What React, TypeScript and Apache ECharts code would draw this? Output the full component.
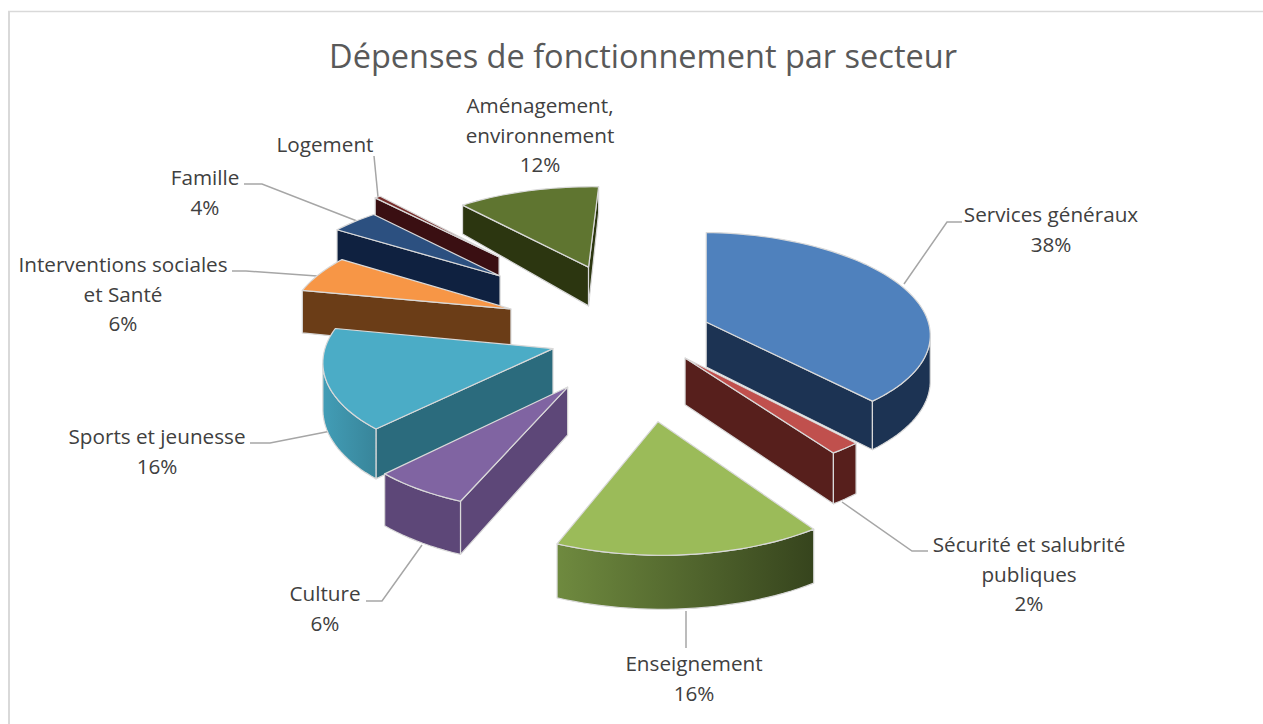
import React, { useEffect, useRef } from "react";
import * as echarts from "echarts";

const titleText = "Dépenses de fonctionnement par secteur";
const sectors = ["Services généraux", "Sécurité et salubrité publiques", "Enseignement", "Culture", "Sports et jeunesse", "Interventions sociales et Santé", "Famille", "Logement", "Aménagement, environnement"];
const shares = [38, 2, 16, 6, 16, 6, 4, 0.5, 12];
const percentLabels = ["38%", "2%", "16%", "6%", "16%", "6%", "4%", "", "12%"];

// Look of each slice: top face, cut faces, outer wall (left → right)
const topColors = ["#4f81bd", "#c0504d", "#9bbb59", "#8064a2", "#4bacc6", "#f79646", "#2c5080", "#772c2a", "#5f7530"];
const cutColors = ["#1c3353", "#571f1c", "#3f4f22", "#5d4778", "#2b6b7d", "#6b3d17", "#0f2140", "#3a0f12", "#2c3610"];
const wallFrom = ["#1c3353", "#571f1c", "#6f8a3f", "#5d4778", "#429db6", "#6b3d17", "#0f2140", "#3a0f12", "#2c3610"];
const wallTo = ["#1c3353", "#571f1c", "#36441d", "#5d4778", "#38859a", "#6b3d17", "#0f2140", "#3a0f12", "#2c3610"];

// Explosion of each slice, in pie radii on the pie's plane
const explodeX = [0.352, 0.248, 0.123, -0.255, -0.329, -0.534, -0.604, -0.621, -0.188];
const explodeY = [-0.13, 0.223, 0.79, 0.49, 0.133, -0.264, -0.62, -0.837, -0.72];

// Projection of the tilted pie
const CX = 628, CY = 335, RADIUS = 225, SQUASH = 0.449, PERSPECTIVE = 0.1, ROTATION = 2;

const labelLines = [
  ["Services généraux", "38%"],
  ["Sécurité et salubrité", "publiques", "2%"],
  ["Enseignement", "16%"],
  ["Culture", "6%"],
  ["Sports et jeunesse", "16%"],
  ["Interventions sociales", "et Santé", "6%"],
  ["Famille", "4%"],
  ["Logement"],
  ["Aménagement,", "environnement", "12%"],
];
const labelX = [1051, 1029, 694, 325, 157, 123, 205, 325, 540];
const labelY = [214, 544, 663, 593, 436, 264, 177, 144, 105];
const leaders = [
  [[904, 284], [947, 222], [962, 222]],
  [[842, 502], [912, 551], [928, 551]],
  [[686, 611], [686, 648]],
  [[422, 545], [382, 601], [366, 601]],
  [[331, 431], [270, 443], [250, 443]],
  [[317, 276], [246, 271], [232, 271]],
  [[357, 221], [262, 184], [244, 184]],
  [[378, 197], [374, 156]],
];
const FONT = "'Open Sans', sans-serif";

const total = shares.reduce((a, b) => a + b, 0);
const project = (X: number, Y: number): [number, number] => {
  const s = 1 / (1 - PERSPECTIVE * Y);
  return [CX + X * RADIUS * s, CY + Y * RADIUS * SQUASH * s];
};
const depthAt = (y: number) => (y >= 300 ? 44 + Math.min(10, (y - 300) / 22) : 44 - (300 - y) * 0.16);
const drop = (p: number[]): [number, number] => [p[0], p[1] + depthAt(p[1])];

function renderSlice(params: any, api: any) {
  const i = params.dataIndex;
  const before = shares.slice(0, i).reduce((a, b) => a + b, 0);
  const a0 = ((before / total) * 360 + ROTATION) * (Math.PI / 180);
  const a1 = (((before + Number(api.value(0))) / total) * 360 + ROTATION) * (Math.PI / 180);
  const ox = explodeX[i], oy = explodeY[i];
  const apex = project(ox, oy);
  const steps = Math.max(3, Math.ceil(((a1 - a0) * 180) / Math.PI / 2));
  const arc: [number, number][] = [];
  for (let k = 0; k <= steps; k++) {
    const t = a0 + ((a1 - a0) * k) / steps;
    arc.push(project(ox + Math.sin(t), oy - Math.cos(t)));
  }
  const rank = Math.round((oy + 1) * 100) * 10;
  const edge = { stroke: "#d9d9d9", lineWidth: 1.2, lineJoin: "round" };
  const children: any[] = [];
  const first = arc[0], last = arc[arc.length - 1];
  // A wall hangs below an edge of the top face only if that edge runs leftwards (clockwise traversal)
  if (first[0] < apex[0]) {
    children.push({ type: "polygon", z2: rank + 1, shape: { points: [apex, first, drop(first), drop(apex)] }, style: { fill: cutColors[i], ...edge } });
  }
  if (last[0] > apex[0]) {
    children.push({ type: "polygon", z2: rank + 2, shape: { points: [apex, last, drop(last), drop(apex)] }, style: { fill: cutColors[i], ...edge } });
  }
  const front = arc.filter((p, k) => (k < arc.length - 1 && arc[k + 1][0] < p[0]) || (k > 0 && p[0] < arc[k - 1][0]));
  if (front.length > 1) {
    const pts = [...front, ...front.slice().reverse().map(drop)];
    children.push({
      type: "polygon", z2: rank + 3, shape: { points: pts },
      style: {
        fill: new echarts.graphic.LinearGradient(0, 0, 1, 0, [
          { offset: 0, color: wallFrom[i] }, { offset: 1, color: wallTo[i] },
        ]),
        ...edge,
      },
    });
  }
  children.push({ type: "polygon", z2: rank + 4, shape: { points: [apex, ...arc] }, style: { fill: topColors[i], ...edge } });
  return { type: "group", children };
}

export default function App() {
  const ref = useRef<HTMLDivElement>(null);
  useEffect(() => {
    const chart = echarts.init(ref.current!, undefined, { renderer: "svg" });
    const graphic: any[] = [
      { type: "line", silent: true, z: 0, shape: { x1: 8, y1: 11.5, x2: 1263, y2: 11.5 }, style: { stroke: "#d9d9d9", lineWidth: 1.5 } },
      { type: "line", silent: true, z: 0, shape: { x1: 9, y1: 11, x2: 9, y2: 724 }, style: { stroke: "#d9d9d9", lineWidth: 2 } },
    ];
    leaders.forEach((pts) => {
      graphic.push({ type: "polyline", z: 1, shape: { points: pts }, style: { stroke: "#a6a6a6", lineWidth: 1.5, fill: "none" } });
    });
    labelLines.forEach((lines, i) => {
      lines.forEach((line, j) => {
        graphic.push({
          type: "text", z: 2, x: labelX[i], y: labelY[i] + j * 29.7,
          style: { text: line, fill: "#404040", font: `20.7px ${FONT}`, textAlign: "center", textVerticalAlign: "middle" },
        });
      });
    });
    chart.setOption({
      animation: false,
      backgroundColor: "#ffffff",
      title: {
        text: titleText, left: 638, top: 34, textAlign: "center",
        textStyle: { fontFamily: FONT, fontSize: 32.5, fontWeight: "normal", color: "#595959" },
      },
      graphic,
      series: [
        {
          type: "custom", coordinateSystem: "none", renderItem: renderSlice, silent: true, z: 3,
          data: sectors.map((name, i) => ({ name, value: [shares[i], percentLabels[i]] })),
        },
      ],
    });
    return () => chart.dispose();
  }, []);
  return <div ref={ref} style={{ position: "absolute", left: 0, top: 0, width: 1263, height: 724 }} />;
}
